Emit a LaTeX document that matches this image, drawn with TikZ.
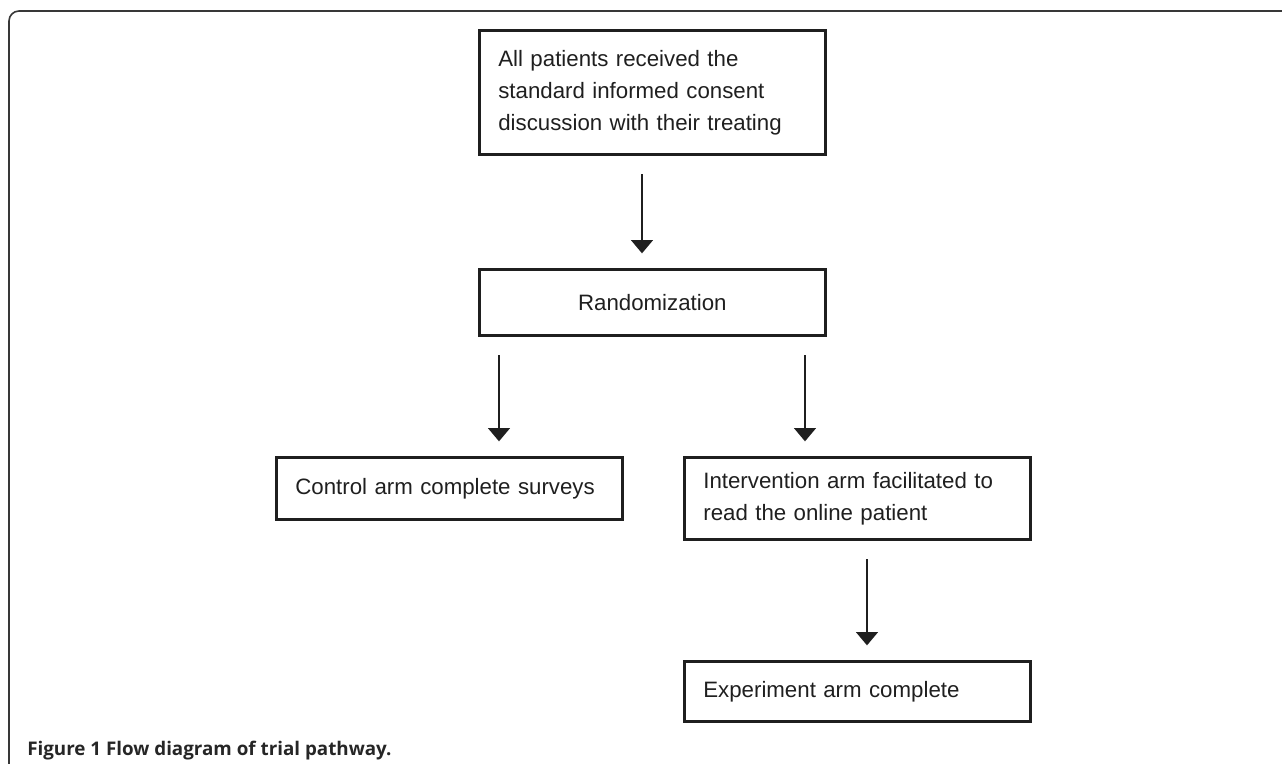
\documentclass[tikz,border=0pt]{standalone}
\usepackage{fontspec}
\setmainfont{Liberation Sans}
\newfontfamily\capfont{Open Sans}
\usetikzlibrary{arrows.meta,positioning}

\begin{document}
\begin{tikzpicture}[x=0.75pt,y=-0.75pt,
  stepbox/.style={draw=black!88,line width=2pt,rectangle,anchor=north west,
    minimum width=259.5pt,inner xsep=14.25pt,text width=231pt,align=left,
    font=\fontsize{16.7}{24}\selectfont,text=black!88},
  arr/.style={draw=black!88,line width=1.2pt,
    -{Triangle[width=16.5pt,length=10pt]},shorten <=14pt,shorten >=11pt}]
\useasboundingbox (0,0) rectangle (1282,764);
\draw [black!78,line width=1.2pt,rounded corners=7.5pt] (1290,11) -- (9,11) -- (9,770);
\node [stepbox,minimum height=93pt] (consent) at (478,29)
  {All patients received the\\standard informed consent\\discussion with their treating};
\node [stepbox,minimum height=49.5pt,align=center] (rand) at (478,268) {Randomization};
\node [stepbox,minimum height=46.5pt] (control) at (275,456) {Control arm complete surveys};
\node [stepbox,minimum height=61.5pt] (interv) at (683,456)
  {Intervention arm facilitated to\\read the online patient};
\node [stepbox,minimum height=45pt] (exper) at (683,660) {Experiment arm complete};
\coordinate (c1) at (642,0);
\coordinate (c2) at (499,0);
\coordinate (c3) at (805,0);
\coordinate (c4) at (867,0);
\draw [arr] (consent.south -| c1) -- (rand.north -| c1);
\draw [arr] (rand.south -| c2) -- (control.north -| c2);
\draw [arr] (rand.south -| c3) -- (interv.north -| c3);
\draw [arr] (interv.south -| c4) -- (exper.north -| c4);
\node [anchor=base west,inner sep=0pt,font=\capfont\bfseries\fontsize{14.1}{16}\selectfont,text=black!85]
  (caption) at (27,755) {Figure 1 Flow diagram of trial pathway.};
\end{tikzpicture}
\end{document}
